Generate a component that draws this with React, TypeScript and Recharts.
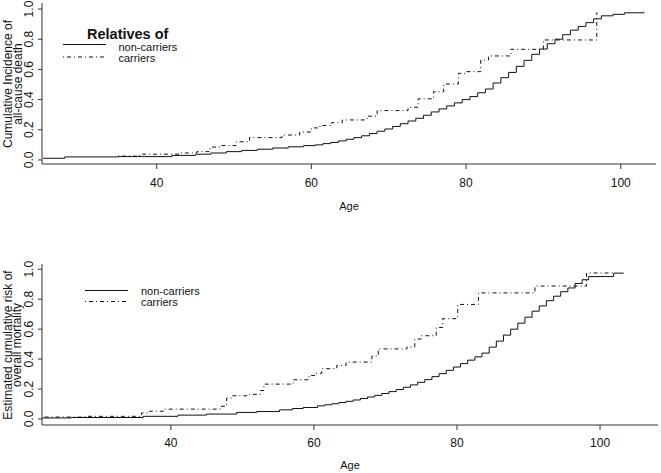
import { LineChart, Line, XAxis, YAxis } from 'recharts'

const FONT = '"Liberation Sans", Arial, sans-serif'
const INK = '#111'
const BOX = '#333'
const DOTDASH = '1 3 4 3'

const xTicks = [40, 60, 80, 100]
const yTicks = [0, 0.2, 0.4, 0.6, 0.8, 1.0]
const seriesNames = ['non-carriers', 'carriers']

// top panel: relatives of non-carriers / carriers, [age, cumulative incidence]
const topNonCarriers = [
  [25.3, 0.011], [28.1, 0.02], [35, 0.022], [42, 0.03], [45, 0.038], [47, 0.046],
  [49, 0.055], [51, 0.063], [53, 0.071], [55, 0.079], [57, 0.087], [59, 0.095],
  [60.5, 0.1], [61.5, 0.108], [62.5, 0.116], [63.5, 0.126], [64.5, 0.137], [65.5, 0.148],
  [66.5, 0.16], [67.5, 0.175], [68.5, 0.19], [69.5, 0.205], [70.5, 0.222], [71.5, 0.24],
  [72.5, 0.258], [73.5, 0.276], [74.5, 0.296], [75.5, 0.318], [76.5, 0.338], [77.5, 0.358],
  [78.5, 0.378], [79.5, 0.4], [80.5, 0.42], [81.5, 0.445], [82.5, 0.47], [83.5, 0.51],
  [84.5, 0.545], [85.5, 0.58], [86.5, 0.62], [87.5, 0.66], [88.5, 0.7], [89.5, 0.735],
  [90.5, 0.77], [91.5, 0.8], [92.5, 0.83], [93.5, 0.86], [94.5, 0.885], [95.5, 0.91],
  [96.5, 0.935], [97.5, 0.955], [99, 0.965], [100.5, 0.975], [103, 0.982],
]
const topCarriers = [
  [35, 0.025], [37.8, 0.038], [43, 0.046], [45.2, 0.055], [46.9, 0.085], [48.2, 0.095],
  [50.3, 0.12], [52, 0.148], [56.2, 0.165], [58.5, 0.185], [60, 0.212], [61.1, 0.228],
  [62.6, 0.247], [64, 0.265], [67.2, 0.29], [68.5, 0.327], [72.5, 0.349], [73.8, 0.405],
  [75.8, 0.452], [77.1, 0.503], [79, 0.574], [79.9, 0.585], [81.9, 0.662], [82.9, 0.689],
  [85.8, 0.733], [90, 0.795], [96.9, 0.975], [97, 0.975],
]

// bottom panel: estimated cumulative risk of overall mortality
const bottomNonCarriers = [
  [22, 0.007], [26.1, 0.01], [36.1, 0.018], [41, 0.026], [45, 0.033], [49.2, 0.044],
  [52, 0.05], [55.2, 0.061], [57, 0.07], [58.5, 0.077], [60.5, 0.088], [61.5, 0.095],
  [62.5, 0.102], [63.5, 0.11], [64.5, 0.118], [65.5, 0.127], [66.5, 0.137], [67.5, 0.147],
  [68.5, 0.158], [69.5, 0.17], [70.5, 0.183], [71.5, 0.197], [72.5, 0.212], [73.5, 0.228],
  [74.5, 0.245], [75.5, 0.263], [76.5, 0.283], [77.5, 0.303], [78.5, 0.325], [79.5, 0.347],
  [80.5, 0.37], [81.5, 0.393], [82.5, 0.415], [83.5, 0.44], [84.5, 0.48], [85.5, 0.52],
  [86.5, 0.56], [87.5, 0.6], [88.5, 0.64], [89.5, 0.68], [90.5, 0.72], [91.5, 0.755],
  [92.5, 0.79], [93.5, 0.82], [94.5, 0.85], [95.5, 0.875], [96.5, 0.905], [97.5, 0.93],
  [98.4, 0.951], [101.9, 0.974], [103.3, 0.974],
]
const bottomCarriers = [
  [21.8, 0.013], [28, 0.018], [35.9, 0.04], [37, 0.052], [39, 0.066], [46.9, 0.085],
  [47.8, 0.14], [48.5, 0.155], [51, 0.165], [52.5, 0.19], [53, 0.233], [57.1, 0.262],
  [59.3, 0.29], [60.2, 0.305], [61.1, 0.336], [63.2, 0.358], [64.5, 0.38], [68.1, 0.42],
  [69, 0.468], [73, 0.48], [74.1, 0.534], [75, 0.556], [77.1, 0.611], [78, 0.67],
  [80.1, 0.765], [83, 0.842], [90.9, 0.888], [98.1, 0.975], [102.1, 0.975],
]

const toRows = (pts: number[][]) => pts.map(([age, risk]) => ({ age, risk }))

const YTick = ({ x, y, payload }: any) => (
  <text x={x} y={y} transform={`rotate(-90, ${x}, ${y})`} textAnchor="middle"
    fontSize={12} fontFamily={FONT} fill={INK}>{payload.value.toFixed(1)}</text>
)

const yTitle = (lines: string[], cy: number, baselines: number[]) => () => (
  <g>
    {lines.map((t, i) => (
      <text key={t} x={-cy} y={baselines[i]} transform="rotate(-90)" textAnchor="middle"
        fontSize={12} fontFamily={FONT} fill={INK}>{t}</text>
    ))}
  </g>
)

const xTitle = (dy: number) => ({ viewBox }: any) => (
  <text x={viewBox.x + viewBox.width / 2} y={viewBox.y + dy} textAnchor="middle"
    fontSize={11} fontFamily={FONT} fill={INK}>Age</text>
)

type PanelProps = {
  top: number
  height: number
  margin: any
  xDomain: number[]
  yDomain: number[]
  nonCarriers: number[][]
  carriers: number[][]
  titleLines: string[]
  titleCy: number
  titleBaselines: number[]
  tickMargin: number
  xTitleDy: number
}

function Panel(p: PanelProps) {
  return (
    <div style={{ position: 'absolute', left: 0, top: p.top }}>
      <LineChart width={661} height={p.height} margin={p.margin}>
        <XAxis xAxisId="b" dataKey="age" type="number" domain={p.xDomain} ticks={xTicks}
          allowDataOverflow height={48} stroke={BOX} tickSize={5} tickMargin={p.tickMargin}
          tick={{ fontSize: 12, fontFamily: FONT, fill: INK }}
          label={{ content: xTitle(p.xTitleDy) }} />
        <XAxis xAxisId="t" orientation="top" dataKey="age" type="number" domain={p.xDomain}
          allowDataOverflow height={0} tick={false} tickLine={false} stroke={BOX} />
        <YAxis yAxisId="l" type="number" domain={p.yDomain} ticks={yTicks} allowDataOverflow
          width={42} stroke={BOX} tickSize={4} tickMargin={5} tick={<YTick />}
          label={{ content: yTitle(p.titleLines, p.titleCy, p.titleBaselines) }} />
        <YAxis yAxisId="r" orientation="right" type="number" domain={p.yDomain}
          allowDataOverflow width={0} tick={false} tickLine={false} stroke={BOX} />
        <Line xAxisId="b" yAxisId="l" data={toRows(p.nonCarriers)} dataKey="risk"
          name={seriesNames[0]} type="stepAfter" stroke={INK} strokeWidth={1}
          dot={false} isAnimationActive={false} />
        <Line xAxisId="b" yAxisId="l" data={toRows(p.carriers)} dataKey="risk"
          name={seriesNames[1]} type="stepAfter" stroke={INK} strokeWidth={1}
          strokeDasharray={DOTDASH} dot={false} isAnimationActive={false} />
      </LineChart>
    </div>
  )
}

function LegendKey({ x1, x2, y1, y2, tx, b1, b2 }: any) {
  return (
    <g fontFamily={FONT} fontSize={11} fill={INK}>
      <line x1={x1} x2={x2} y1={y1} y2={y1} stroke={INK} />
      <line x1={x1} x2={x2} y1={y2} y2={y2} stroke={INK} strokeDasharray={DOTDASH} />
      <text x={tx} y={b1}>{seriesNames[0]}</text>
      <text x={tx} y={b2}>{seriesNames[1]}</text>
    </g>
  )
}

export default function App() {
  return (
    <div style={{ position: 'absolute', left: 0, top: 0, width: 661, height: 473, background: '#fff' }}>
      <Panel top={0} height={215} margin={{ top: 3, right: 5, left: 0, bottom: 3 }}
        xDomain={[25.17, 104.56]} yDomain={[-0.027, 1.04]}
        nonCarriers={topNonCarriers} carriers={topCarriers}
        titleLines={['Cumulative Incidence of', 'all-cause death']} titleCy={84}
        titleBaselines={[12, 22]} tickMargin={9} xTitleDy={46} />
      <Panel top={240} height={233} margin={{ top: 24, right: 3, left: 0, bottom: 0 }}
        xDomain={[21.99, 108.1]} yDomain={[-0.04, 1.035]}
        nonCarriers={bottomNonCarriers} carriers={bottomCarriers}
        titleLines={['Estimated cumulative risk of', 'overall mortality']} titleCy={105}
        titleBaselines={[11.5, 21]} tickMargin={8} xTitleDy={44} />
      <svg width={661} height={473} style={{ position: 'absolute', left: 0, top: 0, pointerEvents: 'none' }}>
        <text x={87} y={38.5} fontFamily={FONT} fontSize={14.5} fontWeight="bold" fill={INK}>Relatives of</text>
        <LegendKey x1={63} x2={106} y1={44.5} y2={57} tx={118.5} b1={51} b2={61.5} />
        <LegendKey x1={85} x2={128} y1={290.5} y2={301.5} tx={141} b1={295} b2={305.5} />
      </svg>
    </div>
  )
}
